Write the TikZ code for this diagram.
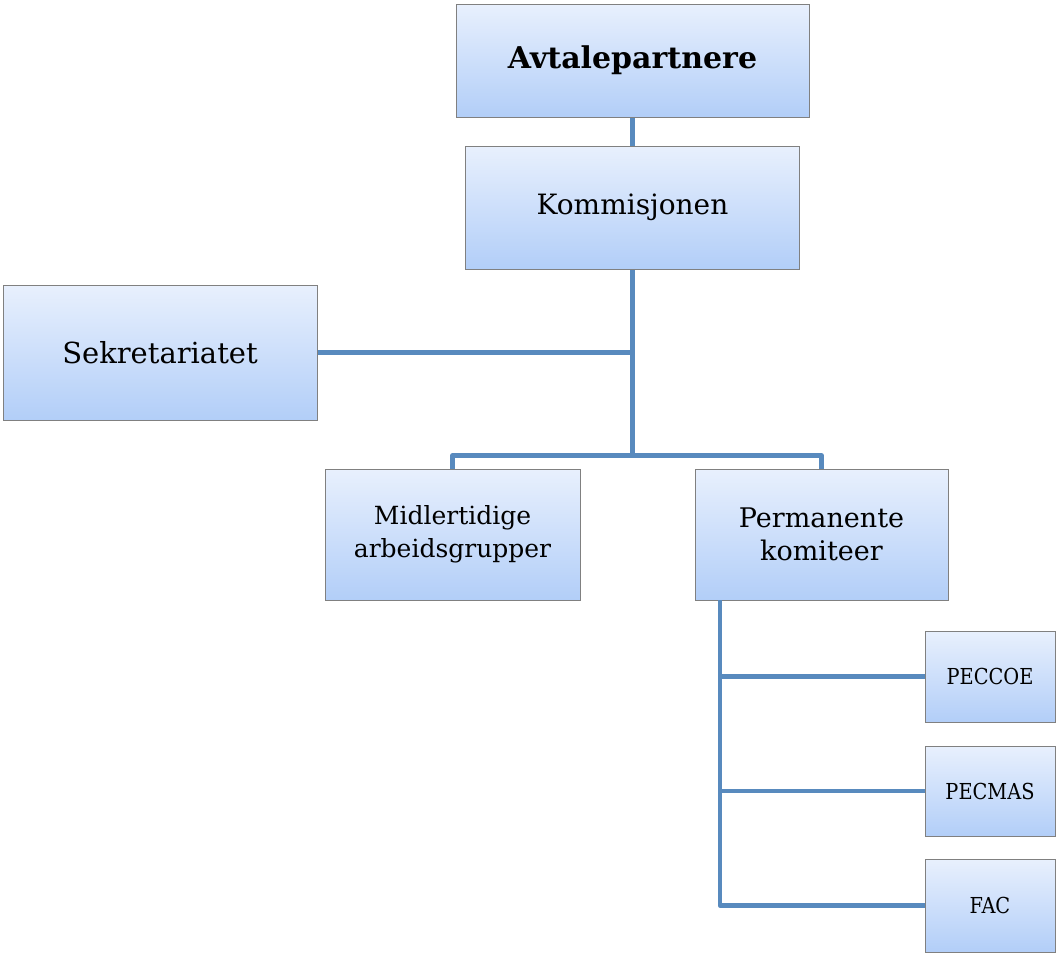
\documentclass[tikz,border=0pt]{standalone}
\usepackage{fontspec}
\setmainfont{DejaVu Serif}
\newfontfamily\narrowfont[FakeStretch=0.88]{DejaVu Serif}
\begin{document}
\begin{tikzpicture}[x=1pt,y=-1pt,
    box/.style={draw=black!50,line width=1pt,top color=boxtop,bottom color=boxbot,
      inner sep=0pt,align=center},
    small/.style={box,minimum width=130pt,font=\narrowfont\fontsize{22}{26}\selectfont},
    link/.style={draw=linkblue,line width=4.6pt,line join=round}]
  \definecolor{boxtop}{RGB}{232,240,253}
  \definecolor{boxbot}{RGB}{178,206,248}
  \definecolor{linkblue}{RGB}{88,138,190}
  \useasboundingbox (0,0) rectangle (1056,954);
  \draw
    (632.5,60.5) node[box,minimum width=353pt,minimum height=113pt,font=\fontsize{30}{36}\selectfont\bfseries] (avtale){Avtalepartnere}
    (632.5,207.5) node[box,minimum width=334pt,minimum height=123pt,font=\fontsize{28}{34}\selectfont] (kommisjon){Kommisjonen}
    (160,352.5) node[box,minimum width=314pt,minimum height=135pt,font=\fontsize{29}{35}\selectfont] (sekretariat){Sekretariatet}
    (452.5,534.5) node[box,minimum width=255pt,minimum height=131pt,font=\fontsize{25}{33}\selectfont] (midl){Midlertidige\\arbeidsgrupper}
    (821.5,534.5) node[box,minimum width=253pt,minimum height=131pt,font=\fontsize{27}{33}\selectfont] (perm){Permanente\\komiteer}
    (990,676.5) node[small,minimum height=91pt] (peccoe){PECCOE}
    (990,791) node[small,minimum height=90pt] (pecmas){PECMAS}
    (990,905.5) node[small,minimum height=93pt] (fac){FAC};
  \coordinate (hub) at (632.5,455.5);
  \coordinate (permfoot) at (720,600);
  \begin{scope}
    \draw[link] (avtale) -- (kommisjon);
    \draw[link] (kommisjon.south) -- (hub);
    \draw[link] (sekretariat.east) -- (sekretariat.east -| hub);
    \draw[link] (midl.north) |- (hub) -| (perm.north);
    \draw[link] (permfoot) |- (fac.west);
    \draw[link] (permfoot |- peccoe.west) -- (peccoe.west);
    \draw[link] (permfoot |- pecmas.west) -- (pecmas.west);
  \end{scope}
\end{tikzpicture}
\end{document}
